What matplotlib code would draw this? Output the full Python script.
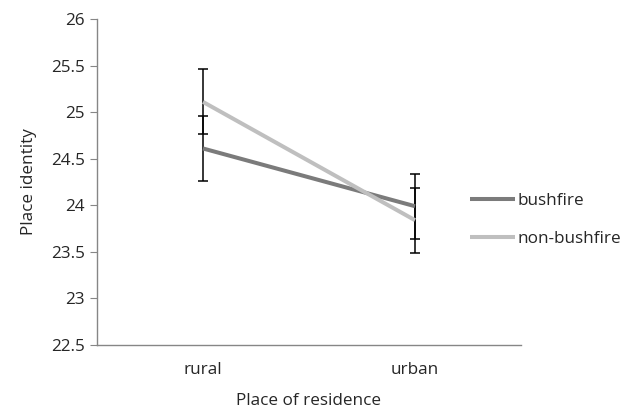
import matplotlib
matplotlib.use("Agg")
import matplotlib.pyplot as plt

categories = ["rural", "urban"]
bushfire = [24.61, 23.99]
bushfire_err = [0.35, 0.35]
non_bushfire = [25.11, 23.84]
non_bushfire_err = [0.35, 0.35]
yticks = [22.5, 23, 23.5, 24, 24.5, 25, 25.5, 26]

plt.rcParams['font.family'] = ['Open Sans', 'DejaVu Sans']
FS = 12.3

fig = plt.figure(figsize=(6.33, 4.09), dpi=100)
ax = fig.add_axes([97/633, 1-345/409, (521-97)/633, (345-19)/409])

x = list(range(len(categories)))
ax.errorbar(x, bushfire, yerr=bushfire_err, fmt='none', ecolor='black',
            elinewidth=1.1, capsize=3.6, capthick=1.1, zorder=2)
ax.errorbar(x, non_bushfire, yerr=non_bushfire_err, fmt='none', ecolor='black',
            elinewidth=1.1, capsize=3.6, capthick=1.1, zorder=2)
ax.plot(x, bushfire, color='#7b7b7b', lw=2.9, label='bushfire', zorder=3,
        solid_capstyle='butt')
ax.plot(x, non_bushfire, color='#bfbfbf', lw=2.9, label='non-bushfire', zorder=3,
        solid_capstyle='butt')

ax.set_xlim(-0.5, 1.5)
ax.set_ylim(22.5, 26)
ax.set_yticks(yticks)
ax.set_yticklabels([f"{v:g}" for v in yticks])
ax.set_xticks(x)
ax.set_xticklabels(categories)

for s in ['top', 'right']:
    ax.spines[s].set_visible(False)
for s in ['left', 'bottom']:
    ax.spines[s].set_color('#868686')
    ax.spines[s].set_linewidth(1.0)
ax.tick_params(axis='y', direction='out', length=5, color='#868686',
               labelsize=FS, labelcolor='#262626', pad=4)
ax.tick_params(axis='x', length=0, labelsize=FS, labelcolor='#262626', pad=12)

ax.set_ylabel('Place identity', fontsize=FS, color='#262626', labelpad=10)
ax.set_xlabel('Place of residence', fontsize=FS, color='#262626', labelpad=11)

leg = fig.legend(loc='upper left', bbox_to_anchor=(455/633, 1-178/409),
                 frameon=False, fontsize=FS, handlelength=2.6,
                 handletextpad=0.15, labelspacing=1.25)
for t in leg.get_texts():
    t.set_color('#262626')

fig.savefig('out.png', dpi=100)
